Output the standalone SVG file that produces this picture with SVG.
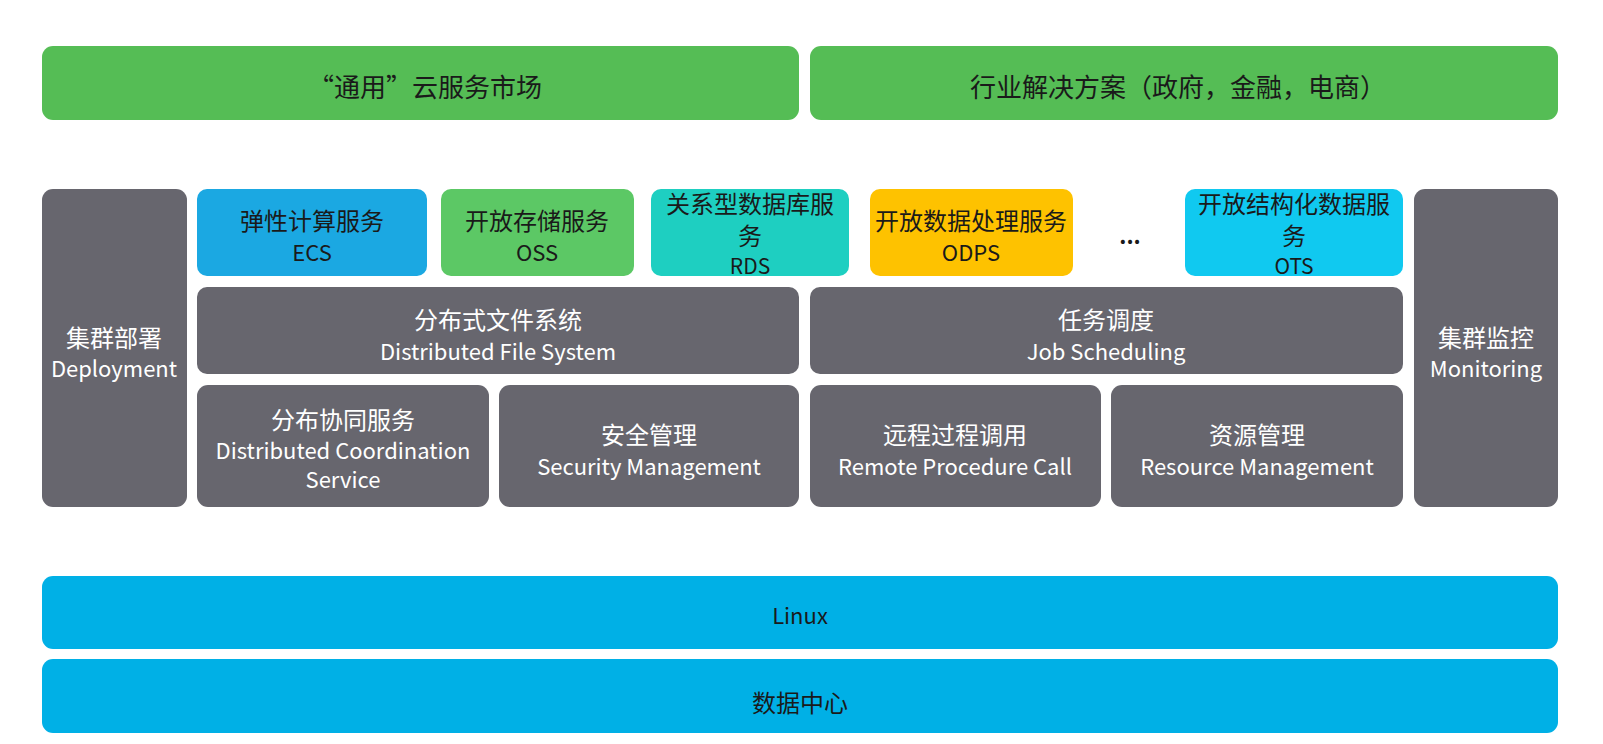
<svg xmlns="http://www.w3.org/2000/svg" width="1603" height="744" viewBox="0 0 1603 744">
<style>
text{font-family:"Noto Sans CJK SC","Noto Sans",sans-serif;text-anchor:middle;dominant-baseline:central}
.zh{font-size:24px}
.top{font-size:26px}
.en{font-size:22px}
.en3{font-size:21px}
.dk{fill:#1a1a1a}
.lt{fill:#ffffff}
.gray{fill:#67666e}
.green{fill:#55bd55}
.blue{fill:#00b0e6}
</style>
<rect width="1603" height="744" fill="#ffffff"/>
<g id="market"><rect class="green" x="42" y="46" width="757" height="74" rx="11"/><text class="top dk" x="425" y="85">“通用”云服务市场</text></g>
<g id="industry"><rect class="green" x="810" y="46" width="748" height="74" rx="11"/><text class="top dk" x="1178" y="85">行业解决方案（政府，金融，电商）</text></g>

<g id="deploy"><rect class="gray" x="42" y="189" width="145" height="318" rx="11"/><text class="zh lt" x="114" y="336">集群部署</text><text class="en lt" x="114" y="367">Deployment</text></g>
<g id="monitor"><rect class="gray" x="1414" y="189" width="144" height="318" rx="11"/><text class="zh lt" x="1486" y="336">集群监控</text><text class="en lt" x="1486" y="367">Monitoring</text></g>

<g id="ecs"><rect x="197" y="189" width="230" height="87" rx="10" fill="#1ba8e2"/><text class="zh dk" x="312" y="219">弹性计算服务</text><text class="en dk" x="312" y="251">ECS</text></g>
<g id="oss"><rect x="441" y="189" width="193" height="87" rx="10" fill="#5cc865"/><text class="zh dk" x="537" y="219">开放存储服务</text><text class="en dk" x="537" y="251">OSS</text></g>
<g id="rds"><rect x="651" y="189" width="198" height="87" rx="10" fill="#1ecfc1"/><text class="zh dk" x="750" y="202">关系型数据库服</text><text class="zh dk" x="750" y="234">务</text><text class="en3 dk" x="750" y="265">RDS</text></g>
<g id="odps"><rect x="870" y="189" width="203" height="87" rx="10" fill="#fec200"/><text class="zh dk" x="971" y="219">开放数据处理服务</text><text class="en dk" x="971" y="251">ODPS</text></g>
<g id="more"><text class="en dk" x="1130" y="234" font-weight="bold">...</text></g>
<g id="ots"><rect x="1185" y="189" width="218" height="87" rx="10" fill="#10c9f0"/><text class="zh dk" x="1294" y="202">开放结构化数据服</text><text class="zh dk" x="1294" y="234">务</text><text class="en3 dk" x="1294" y="265">OTS</text></g>

<g id="dfs"><rect class="gray" x="197" y="287" width="602" height="87" rx="10"/><text class="zh lt" x="498" y="318">分布式文件系统</text><text class="en lt" x="498" y="350">Distributed File System</text></g>
<g id="job"><rect class="gray" x="810" y="287" width="593" height="87" rx="10"/><text class="zh lt" x="1106" y="318">任务调度</text><text class="en lt" x="1106" y="350">Job Scheduling</text></g>

<g id="coord"><rect class="gray" x="197" y="385" width="292" height="122" rx="11"/><text class="zh lt" x="343" y="418">分布协同服务</text><text class="en lt" x="343" y="449">Distributed Coordination</text><text class="en lt" x="343" y="478">Service</text></g>
<g id="security"><rect class="gray" x="499" y="385" width="300" height="122" rx="11"/><text class="zh lt" x="649" y="433">安全管理</text><text class="en lt" x="649" y="465">Security Management</text></g>
<g id="rpc"><rect class="gray" x="810" y="385" width="291" height="122" rx="11"/><text class="zh lt" x="955" y="433">远程过程调用</text><text class="en lt" x="955" y="465">Remote Procedure Call</text></g>
<g id="resource"><rect class="gray" x="1111" y="385" width="292" height="122" rx="11"/><text class="zh lt" x="1257" y="433">资源管理</text><text class="en lt" x="1257" y="465">Resource Management</text></g>

<g id="linux"><rect class="blue" x="42" y="576" width="1516" height="73" rx="11"/><text class="en dk" x="800" y="614">Linux</text></g>
<g id="datacenter"><rect class="blue" x="42" y="659" width="1516" height="74" rx="11"/><text class="zh dk" x="800" y="701">数据中心</text></g>
<g id="connectors"></g>
</svg>
